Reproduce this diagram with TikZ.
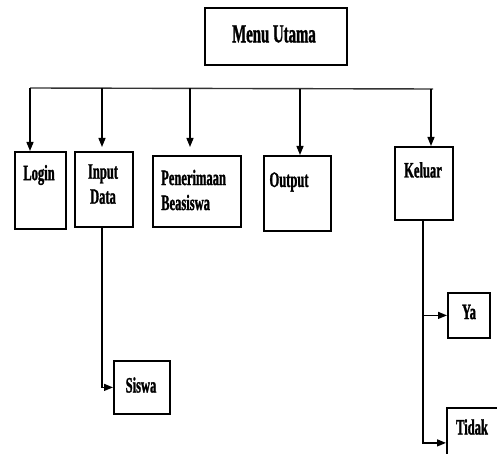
\documentclass[tikz,border=0pt]{standalone}
\usepackage{fontspec}
\setmainfont{Liberation Serif}[FakeStretch=0.57, FakeBold=1.2]
\usetikzlibrary{arrows.meta}
\tikzset{Menu Box/.style = {draw, line width = 1.8pt, inner sep = 0pt, anchor = north west},
  Menu Text/.style = {font = \bfseries\fontsize{22}{24}\selectfont, inner sep = 0pt, align = center},
  Menu Line/.style = {line width = 1.4pt},
  Menu Arrow/.style = {line width = 1.3pt, -{Triangle[width = 7pt, length = 9pt]}}}

\begin{document}
\begin{tikzpicture}[x = 1pt, y = -1pt]
  \useasboundingbox (0, 0) rectangle (497, 454);

  \node[Menu Box, minimum width = 142, minimum height = 57] (menu) at (204, 7) {};
  \node[Menu Text, font = \bfseries\fontsize{26}{28}\selectfont] (menuT) at (274, 34) {Menu Utama};

  \node[Menu Box, minimum width = 51, minimum height = 77] (login) at (14, 151) {};
  \node[Menu Box, minimum width = 58, minimum height = 75] (input) at (74, 151) {};
  \node[Menu Box, minimum width = 88, minimum height = 71] (terima) at (152, 155) {};
  \node[Menu Box, minimum width = 67, minimum height = 75] (output) at (263, 155) {};
  \node[Menu Box, minimum width = 58, minimum height = 73] (keluar) at (394, 146) {};
  \node[Menu Box, minimum width = 56, minimum height = 53] (siswa) at (113, 360) {};
  \node[Menu Box, minimum width = 42, minimum height = 45] (ya) at (447, 292) {};
  \node[Menu Box, minimum width = 60, minimum height = 70] (tidak) at (446, 407) {};

  \node[Menu Text] (loginT) at (39, 175) {Login};
  \node[Menu Text, text depth = 0pt] (inputT) at (103, 184) {Input\\[1pt] Data};
  \node[Menu Text, align = left, anchor = west] (terimaT) at (161, 190) {Penerimaan\\[1pt] Beasiswa};
  \node[Menu Text] (outputT) at (289, 182) {Output};
  \node[Menu Text] (keluarT) at (423, 170) {Keluar};
  \node[Menu Text] (siswaT) at (141, 385) {Siswa};
  \node[Menu Text] (yaT) at (469, 312) {Ya};
  \node[Menu Text] (tidakT) at (472, 427) {Tidak};

  % bus under the main menu
  \coordinate (busL) at (30, 88);
  \coordinate (busR) at (433, 89);
  \draw[Menu Line, black!80] (busL) -- (busR);

  \coordinate (b1) at (30, 88);
  \coordinate (b2) at (102, 88);
  \coordinate (b3) at (190, 88);
  \coordinate (b4) at (300, 89);
  \coordinate (b5) at (431, 89);

  \draw[Menu Arrow] (b1) -- (b1 |- login.north);
  \draw[Menu Arrow, shorten > = 4pt] (b2) -- (b2 |- input.north);
  \draw[Menu Arrow, shorten > = 8pt] (b3) -- (b3 |- terima.north);
  \draw[Menu Arrow] (b4) -- (b4 |- output.north);
  \draw[Menu Arrow] (b5) -- (b5 |- keluar.north);

  % sub menus
  \draw[Menu Arrow] ([xshift = -2pt] input.south) |- (siswa.west);
  \draw[Menu Arrow] ([xshift = -1pt] keluar.south) |- (ya.west);
  \draw[Menu Arrow] ([xshift = -1pt] keluar.south) |- (tidak.west);
\end{tikzpicture}
\end{document}
